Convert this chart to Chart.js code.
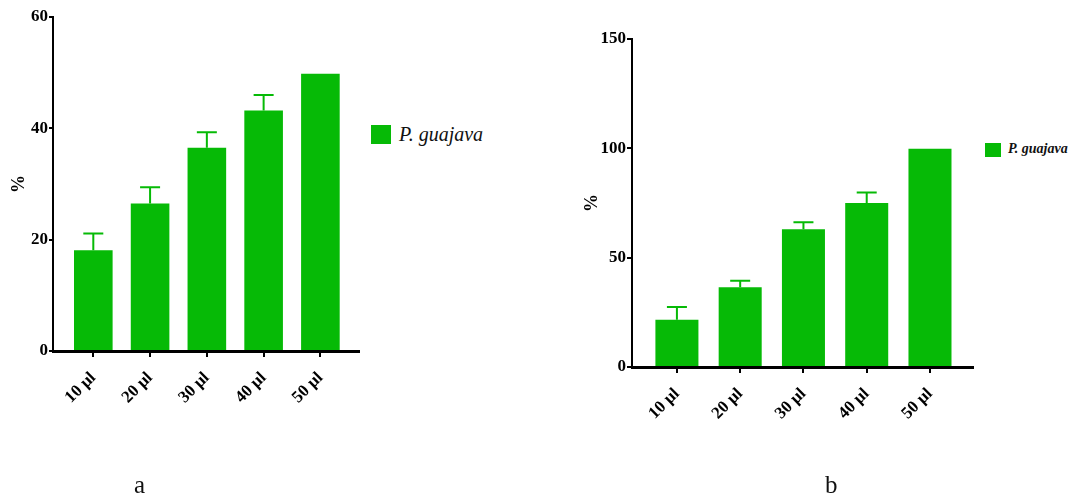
<!DOCTYPE html>
<html>
<head>
<meta charset="utf-8">
<script src="https://cdn.jsdelivr.net/npm/chart.js@4.4.1/dist/chart.umd.min.js"></script>
<style>
  body { margin: 0; background: #fff; width: 1079px; height: 497px; position: relative; overflow: hidden; font-family: 'Liberation Serif', serif; }
  canvas { position: absolute; top: 0; }
  .sw { position: absolute; background: #06ba06; }
  .lg { position: absolute; font-style: italic; color: #111; white-space: nowrap; line-height: 1; }
  .panel { position: absolute; font-size: 25px; line-height: 25px; color: #111; }
</style>
</head>
<body>
<canvas id="chartA" width="362" height="497" style="left:0px"></canvas>
<canvas id="chartB" width="416" height="497" style="left:560px"></canvas>

<!-- legendas -->
<div class="sw" style="left:371px;top:125px;width:20px;height:19px"></div>
<div class="lg" style="left:399px;top:124px;font-size:20px">P. guajava</div>
<div class="sw" style="left:985px;top:143px;width:16px;height:14px"></div>
<div class="lg" style="left:1008px;top:142px;font-size:14px;font-weight:bold">P. guajava</div>

<div class="panel" style="left:134px;top:472px">a</div>
<div class="panel" style="left:825px;top:472px">b</div>

<script>
// categorias (doses)
const categories = ["10 µl", "20 µl", "30 µl", "40 µl", "50 µl"];

// painel a
const valuesA = [18.1, 26.5, 36.5, 43.2, 49.8];
const errorsA = [3.0, 2.9, 2.8, 2.8, 0];
const ticksA = [0, 20, 40, 60];

// painel b
const valuesB = [21.6, 36.5, 63.0, 75.0, 99.8];
const errorsB = [5.8, 3.0, 3.2, 4.8, 0];
const ticksB = [0, 50, 100, 150];

const green = "#06ba06";

Chart.defaults.font.family = "'Liberation Serif', serif";
Chart.defaults.color = "#000";

// barras de erro (só para cima)
const errorBars = {
    id: "errorBars",
    afterDatasetsDraw(chart, args, opts) {
        const ctx = chart.ctx;
        const y = chart.scales.y;
        const meta = chart.getDatasetMeta(0);
        ctx.save();
        ctx.strokeStyle = green;
        ctx.lineWidth = 2;
        meta.data.forEach((bar, i) => {
            const err = opts.errors[i];
            if (!err) return;
            const raw = chart.data.datasets[0].data[i].y;
            const top = y.getPixelForValue(raw + err);
            ctx.beginPath();
            ctx.moveTo(bar.x, bar.y);
            ctx.lineTo(bar.x, top);
            ctx.moveTo(bar.x - opts.cap, top);
            ctx.lineTo(bar.x + opts.cap, top);
            ctx.stroke();
        });
        ctx.restore();
    }
};

function makeChart(id, values, errors, yTicks, box) {
    const canvas = document.getElementById(id);
    new Chart(canvas, {
        type: "bar",
        data: {
            datasets: [{
                data: values.map((v, i) => ({ x: i, y: v })),
                backgroundColor: green,
                borderWidth: 0,
                barPercentage: 0.68,
                categoryPercentage: 1
            }]
        },
        plugins: [errorBars],
        options: {
            responsive: false,
            animation: false,
            layout: { padding: { top: box.top, right: 3, left: 0, bottom: 0 } },
            plugins: {
                legend: { display: false },
                tooltip: { enabled: false },
                errorBars: { errors: errors, cap: 10 }
            },
            scales: {
                x: {
                    type: "linear",
                    offset: false,
                    min: -0.71,
                    max: 4.68,
                    border: { color: "#000", width: 3 },
                    grid: { offset: false, drawOnChartArea: false, color: "#000", lineWidth: 2, tickLength: 6 },
                    ticks: {
                        stepSize: 1,
                        includeBounds: false,
                        autoSkip: false,
                        maxRotation: 45,
                        minRotation: 45,
                        padding: 11,
                        font: { size: 17, weight: "bold" },
                        callback: v => categories[v] ?? ""
                    },
                    afterFit: s => { s.height = canvas.height - box.bottom; s.paddingLeft = 0; s.paddingRight = 0; }
                },
                y: {
                    min: yTicks[0],
                    max: yTicks[yTicks.length - 1],
                    border: { color: "#000", width: 2 },
                    grid: { drawOnChartArea: false, color: "#000", lineWidth: 2, tickLength: box.tick },
                    ticks: {
                        stepSize: yTicks[1] - yTicks[0],
                        padding: 1,
                        font: { size: 17, weight: "bold" }
                    },
                    title: {
                        display: true,
                        text: "%",
                        font: { size: 18, weight: "bold" },
                        padding: { top: box.title }
                    },
                    afterFit: s => { s.width = box.left; s.paddingTop = 0; s.paddingBottom = 0; }
                }
            }
        }
    });
}

makeChart("chartA", valuesA, errorsA, ticksA, { left: 53, top: 17, bottom: 351, tick: 4, title: 9 });
makeChart("chartB", valuesB, errorsB, ticksB, { left: 72, top: 39, bottom: 367, tick: 5, title: 22 });
</script>
</body>
</html>
